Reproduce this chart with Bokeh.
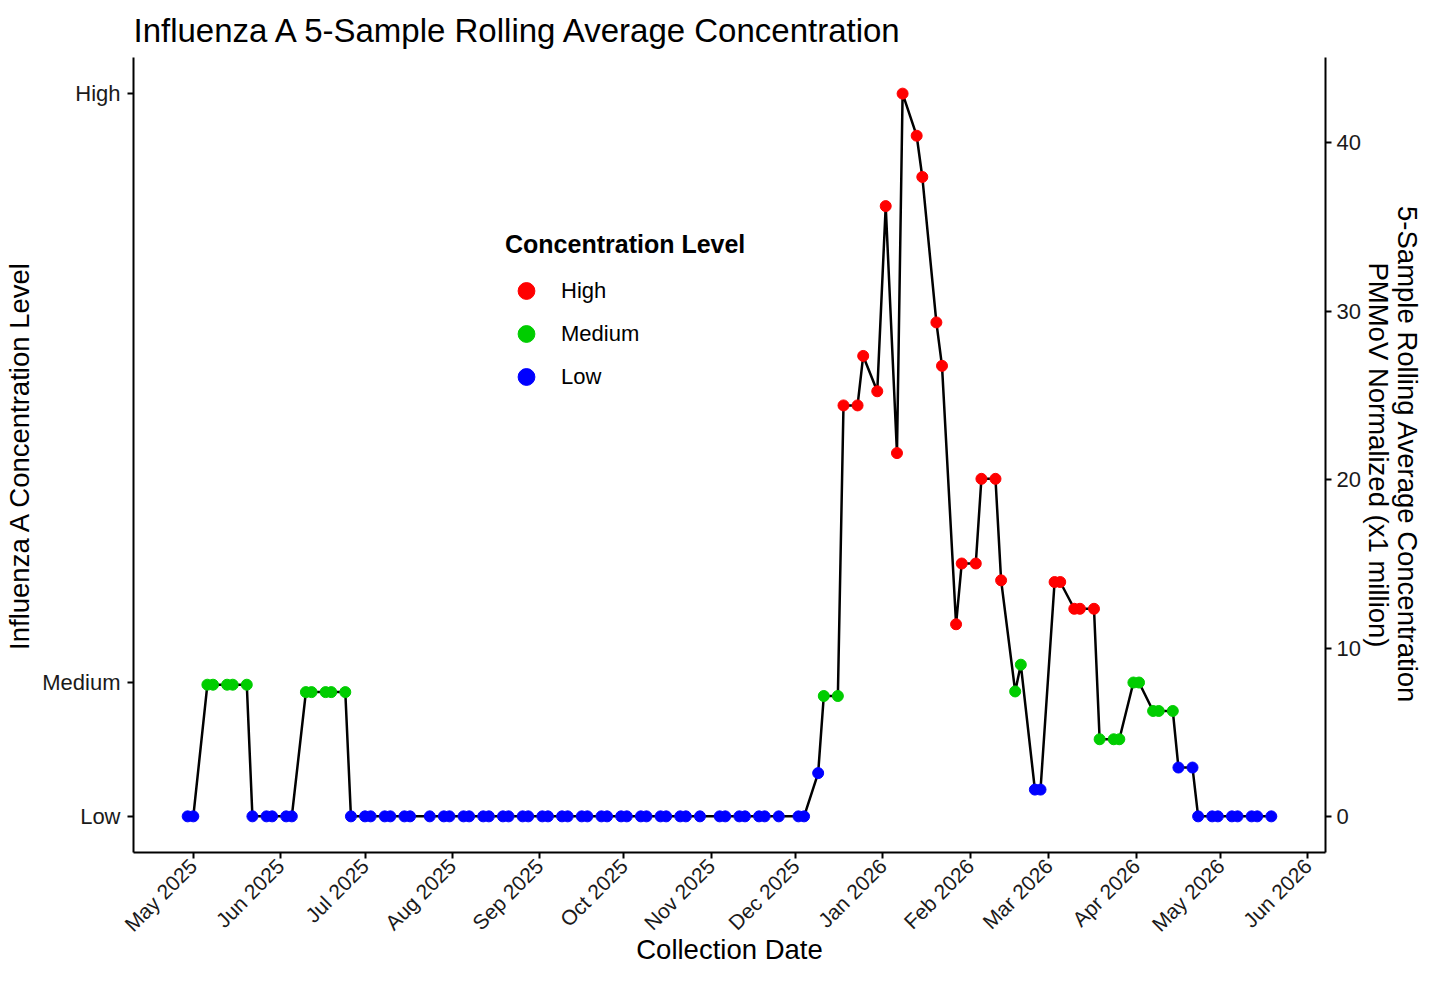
import math
import pandas as pd
from bokeh.plotting import figure
from bokeh.models import (ColumnDataSource, LinearAxis, FixedTicker, DatetimeTickFormatter,
                          Legend, LegendItem, Range1d)
from bokeh.embed import file_html
from bokeh.resources import INLINE

# ---------------- data ----------------
dates = [
    "2025-04-29", "2025-05-01", "2025-05-06", "2025-05-08", "2025-05-13", "2025-05-15",
    "2025-05-20", "2025-05-22", "2025-05-27", "2025-05-29", "2025-06-03", "2025-06-05",
    "2025-06-10", "2025-06-12", "2025-06-17", "2025-06-19", "2025-06-24", "2025-06-26",
    "2025-07-01", "2025-07-03", "2025-07-08", "2025-07-10", "2025-07-15", "2025-07-17",
    "2025-07-24", "2025-07-29", "2025-07-31", "2025-08-05", "2025-08-07", "2025-08-12",
    "2025-08-14", "2025-08-19", "2025-08-21", "2025-08-26", "2025-08-28", "2025-09-02",
    "2025-09-04", "2025-09-09", "2025-09-11", "2025-09-16", "2025-09-18", "2025-09-23",
    "2025-09-25", "2025-09-30", "2025-10-02", "2025-10-07", "2025-10-09", "2025-10-14",
    "2025-10-16", "2025-10-21", "2025-10-23", "2025-10-28", "2025-11-04", "2025-11-06",
    "2025-11-11", "2025-11-13", "2025-11-18", "2025-11-20", "2025-11-25", "2025-12-02",
    "2025-12-04", "2025-12-09", "2025-12-11", "2025-12-16", "2025-12-18", "2025-12-23",
    "2025-12-25", "2025-12-30", "2026-01-02", "2026-01-06", "2026-01-08", "2026-01-13",
    "2026-01-15", "2026-01-20", "2026-01-22", "2026-01-27", "2026-01-29", "2026-02-03",
    "2026-02-05", "2026-02-10", "2026-02-12", "2026-02-17", "2026-02-19", "2026-02-24",
    "2026-02-26", "2026-03-03", "2026-03-05", "2026-03-10", "2026-03-12", "2026-03-17",
    "2026-03-19", "2026-03-24", "2026-03-26", "2026-03-31", "2026-04-02", "2026-04-07",
    "2026-04-09", "2026-04-14", "2026-04-16", "2026-04-21", "2026-04-23", "2026-04-28",
    "2026-04-30", "2026-05-05", "2026-05-07", "2026-05-12", "2026-05-14", "2026-05-19",
]
values = [
    0, 0, 7.82, 7.82, 7.82, 7.82,
    7.82, 0, 0, 0, 0, 0,
    7.38, 7.38, 7.38, 7.38, 7.38, 0,
    0, 0, 0, 0, 0, 0,
    0, 0, 0, 0, 0, 0,
    0, 0, 0, 0, 0, 0,
    0, 0, 0, 0, 0, 0,
    0, 0, 0, 0, 0, 0,
    0, 0, 0, 0, 0, 0,
    0, 0, 0, 0, 0, 0,
    0, 2.57, 7.15, 7.15, 24.41, 24.41,
    27.35, 25.25, 36.25, 21.58, 42.93, 40.43,
    37.98, 29.34, 26.76, 11.41, 15.02, 15.02,
    20.05, 20.05, 14.02, 7.42, 9.01, 1.59,
    1.59, 13.92, 13.92, 12.33, 12.33, 12.33,
    4.58, 4.58, 4.58, 7.95, 7.95, 6.26,
    6.26, 6.26, 2.90, 2.90, 0, 0,
    0, 0, 0, 0, 0, 0,
]
L, M, H = "Low", "Medium", "High"
levels = [
    L, L, M, M, M, M,
    M, L, L, L, L, L,
    M, M, M, M, M, L,
    L, L, L, L, L, L,
    L, L, L, L, L, L,
    L, L, L, L, L, L,
    L, L, L, L, L, L,
    L, L, L, L, L, L,
    L, L, L, L, L, L,
    L, L, L, L, L, L,
    L, L, M, M, H, H,
    H, H, H, H, H, H,
    H, H, H, H, H, H,
    H, H, H, M, M, L,
    L, H, H, H, H, H,
    M, M, M, M, M, M,
    M, M, L, L, L, L,
    L, L, L, L, L, L,
]

level_names = ["High", "Medium", "Low"]
level_colors = ["#FF0000", "#00CD00", "#0000FF"]
level_tick_values = [0, 7.95, 42.93]
level_tick_labels = ["Low", "Medium", "High"]
right_tick_values = [0, 10, 20, 30, 40]
month_ticks = ["2025-05-01", "2025-06-01", "2025-07-01", "2025-08-01", "2025-09-01",
               "2025-10-01", "2025-11-01", "2025-12-01", "2026-01-01", "2026-02-01",
               "2026-03-01", "2026-04-01", "2026-05-01", "2026-06-01"]

title_text = "Influenza A 5-Sample Rolling Average Concentration"
x_label = "Collection Date"
y_label = "Influenza A Concentration Level"
y2_label = "5-Sample Rolling Average Concentration\nPMMoV Normalized (x1 million)"
legend_title = "Concentration Level"

# ---------------- build ----------------
FONT = "Liberation Sans"
dt = pd.to_datetime(dates)
df = pd.DataFrame({"date": dt, "value": values, "level": levels})

xpad = (dt.max() - dt.min()) * 0.05
x_start, x_end = dt.min() - xpad, dt.max() + xpad
x_range = Range1d(x_start.to_pydatetime(), x_end.to_pydatetime())
ymin, ymax = min(values), max(values)
ypad = (ymax - ymin) * 0.05
y_range = Range1d(ymin - ypad, ymax + ypad)

p = figure(width=1426, height=967, x_axis_type="datetime", x_range=x_range, y_range=y_range,
           output_backend="svg", toolbar_location=None, title=title_text,
           min_border_left=133, min_border_right=101, min_border_top=57, min_border_bottom=110)
p.outline_line_color = None
p.xgrid.visible = False
p.ygrid.visible = False
p.background_fill_color = "white"
p.border_fill_color = "white"

p.title.text_font = FONT
p.title.text_font_size = "33px"
p.title.text_font_style = "normal"
p.title.text_color = "black"
p.title.align = "left"
p.title.vertical_align = "top"
p.title.standoff = 14

p.line(x="date", y="value", source=ColumnDataSource(df), line_color="black", line_width=2.5)

renderers = {}
for name, color in zip(level_names, level_colors):
    sub = df[df["level"] == name]
    renderers[name] = p.scatter(x="date", y="value", source=ColumnDataSource(sub),
                                size=11, fill_color=color, line_color=color)

right_axis = LinearAxis(ticker=FixedTicker(ticks=right_tick_values))
p.add_layout(right_axis, "right")

month_ms = [int((pd.Timestamp(m) - pd.Timestamp("1970-01-01")) / pd.Timedelta("1ms")) for m in month_ticks]
xaxis = p.xaxis[0]
xaxis.ticker = FixedTicker(ticks=month_ms)
fmt = "%b %Y"
xaxis.formatter = DatetimeTickFormatter(days=fmt, months=fmt, years=fmt, hours=fmt, hourmin=fmt)
xaxis.major_label_orientation = math.pi / 4
xaxis.axis_label = x_label

yaxis = p.yaxis[0]
yaxis.ticker = FixedTicker(ticks=level_tick_values)
yaxis.major_label_overrides = {v: lab for v, lab in zip(level_tick_values, level_tick_labels)}
yaxis.axis_label = y_label
right_axis.axis_label = y2_label

for ax in [xaxis, yaxis, right_axis]:
    ax.axis_line_color = "black"
    ax.axis_line_width = 2
    ax.major_tick_line_color = "black"
    ax.major_tick_line_width = 2
    ax.major_tick_out = 6
    ax.major_tick_in = 0
    ax.minor_tick_out = 0
    ax.minor_tick_in = 0
    ax.major_label_text_font = FONT
    ax.major_label_text_font_size = "22px"
    ax.major_label_text_color = "#1a1a1a"
    ax.major_label_standoff = 7
    ax.axis_label_text_font = FONT
    ax.axis_label_text_font_size = "27.5px"
    ax.axis_label_text_font_style = "normal"
    ax.axis_label_text_color = "black"
    ax.axis_label_standoff = 4
right_axis.major_label_standoff = 5
right_axis.axis_label_standoff = -1
right_axis.axis_label_text_line_height = 0.95
xaxis.major_label_text_font_size = "21px"
xaxis.major_label_standoff = 4
# rotated tick labels reserve more room than they draw; pull the title up into it
xaxis.axis_label_standoff = -13

legend = Legend(
    items=[LegendItem(label=n, renderers=[renderers[n]]) for n in level_names],
    title=legend_title, location=(372, 454),
    title_text_font=FONT, title_text_font_size="25px", title_text_font_style="bold",
    title_text_color="black",
    label_text_font=FONT, label_text_font_size="22px", label_text_color="black",
    glyph_width=42, glyph_height=43, label_height=43, label_standoff=14, spacing=0,
    padding=0, margin=0, border_line_color=None, background_fill_alpha=0, title_standoff=10,
)
p.add_layout(legend)

open("out.html", "w").write(file_html(p, INLINE))
